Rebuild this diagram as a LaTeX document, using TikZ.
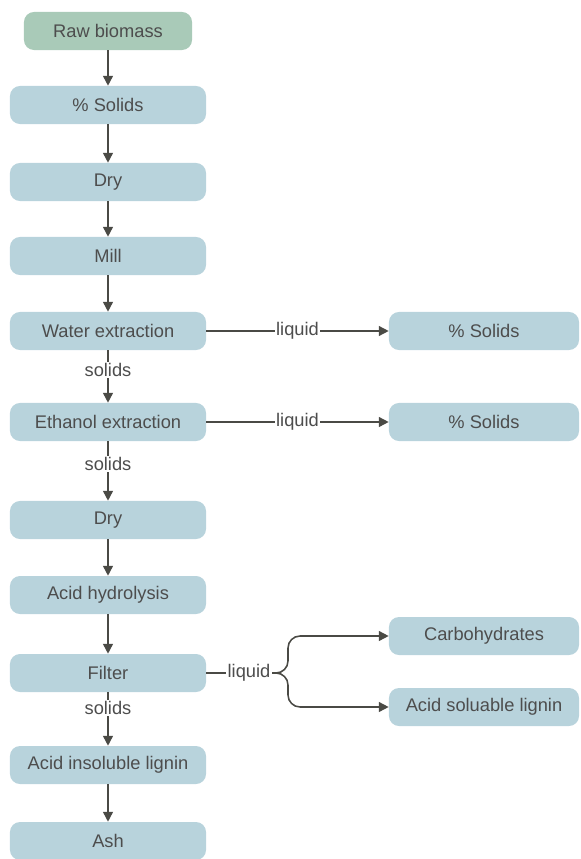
\documentclass[tikz,border=0pt]{standalone}
\usepackage{fontspec}
\setmainfont{Liberation Sans}
\usetikzlibrary{arrows.meta}
\definecolor{Sage}{HTML}{A9CAB8}
\definecolor{Pale}{HTML}{B8D3DC}
\definecolor{Ink}{HTML}{4A4A45}
\definecolor{Txt}{HTML}{4D4D4D}

\begin{document}
\begin{tikzpicture}[x=0.025cm,y=-0.025cm,
        n/.style={rounded corners=0.25cm,minimum width=4.9cm,minimum height=0.95cm,fill=Pale,text=Txt,font=\fontsize{13}{15}\selectfont},
        r/.style={n,minimum width=4.75cm},
        s/.style={n,minimum width=4.2cm,fill=Sage},
        a/.style={-{Triangle[length=7pt,width=7pt]},draw=Ink,line width=1.1pt},
        l/.style={fill=white,text=Txt,inner sep=1pt,font=\fontsize{13}{15}\selectfont}]
        \useasboundingbox (0,0) rectangle (580,859);
        \node[s] (raw) at (108,31) {Raw biomass};
        \node[n] (ps) at (108,105) {\% Solids};
        \node[n] (dry1) at (108,182) {Dry};
        \node[n] (mill) at (108,256) {Mill};
        \node[n] (wat) at (108,331) {Water extraction};
        \node[n] (eth) at (108,422) {Ethanol extraction};
        \node[n] (dry2) at (108,520) {Dry};
        \node[n] (hyd) at (108,595) {Acid hydrolysis};
        \node[n] (filt) at (108,673) {Filter};
        \node[n] (ail) at (108,765) {Acid insoluble lignin};
        \node[n] (ash) at (108,841) {Ash};
        \node[r] (ps2) at (484,331) {\% Solids};
        \node[r] (ps3) at (484,422) {\% Solids};
        \node[r] (carb) at (484,636) {Carbohydrates};
        \node[r] (asl) at (484,707) {Acid soluable lignin};
        \draw[a] (raw)--(ps);
        \draw[a] (ps)--(dry1);
        \draw[a] (dry1)--(mill);
        \draw[a] (mill)--(wat);
        \draw[a] (wat)--node[l,pos=0.38]{solids}(eth);
        \draw[a] (eth)--node[l,pos=0.38]{solids}(dry2);
        \draw[a] (dry2)--(hyd);
        \draw[a] (hyd)--(filt);
        \draw[a] (filt)--node[l,pos=0.3]{solids}(ail);
        \draw[a] (ail)--(ash);
        \draw[a] (wat)--node[l]{liquid}(ps2);
        \draw[a] (eth)--node[l]{liquid}(ps3);
        % liquid from the filter splits in two
        \node[l] (liq) at (249,673) {liquid};
        \draw[draw=Ink,line width=1.1pt] (filt)--(liq);
        \draw[a,rounded corners=0.3cm] (liq.east)--(288,673)|-(carb.west);
        \draw[a,rounded corners=0.3cm] (liq.east)--(288,673)|-(asl.west);
      \end{tikzpicture}
\end{document}
